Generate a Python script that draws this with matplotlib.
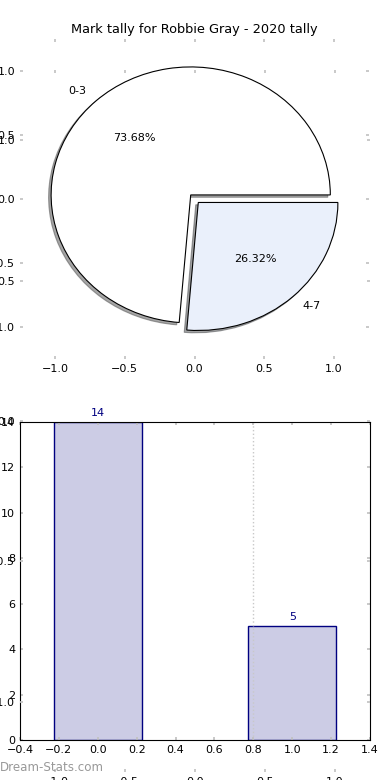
import matplotlib
matplotlib.use("Agg")
import matplotlib.pyplot as plt

# ── Data ──────────────────────────────────────────────────────────────────────
PLAYER = "Robbie Gray"
SEASON = 2020
mark_bins = ["0-3", "4-7"]
mark_counts = [14, 5]
bar_pos = [0, 1]
pie_ticks = [-1.0, -0.5, 0.0, 0.5, 1.0]
bar_xticks = [-0.4, -0.2, 0.0, 0.2, 0.4, 0.6, 0.8, 1.0, 1.2, 1.4]
bar_yticks = [0, 2, 4, 6, 8, 10, 12, 14]
marker_x = 0.8

# ── Style ─────────────────────────────────────────────────────────────────────
TICK_GREY = "#c0c0c0"
plt.rcParams.update({
    "font.size": 8,
    "xtick.direction": "in", "ytick.direction": "in",
    "xtick.top": True, "ytick.right": True,
    "xtick.color": TICK_GREY, "ytick.color": TICK_GREY,
    "xtick.labelcolor": "black", "ytick.labelcolor": "black",
    "xtick.major.size": 2.5, "ytick.major.size": 2.5,
    "xtick.major.width": 1.2, "ytick.major.width": 1.2,
    "xtick.major.pad": 3.5, "ytick.major.pad": 3.5,
})

W, H = 390, 780
fig = plt.figure(figsize=(W / 100, H / 100), dpi=100)


def box(x0, y0, x1, y1):
    """pixel box (top-left origin) -> figure fraction rect"""
    return [x0 / W, 1 - y1 / H, (x1 - x0) / W, (y1 - y0) / H]


# ── Pie ───────────────────────────────────────────────────────────────────────
ax1 = fig.add_axes(box(20, 38.7, 369, 358.7))
ax1.pie(mark_counts, labels=mark_bins, colors=["white", "#eaf0fb"],
        explode=[0.04, 0.04], autopct="%.2f%%",
        shadow={"ox": -0.013, "oy": -0.013},
        wedgeprops={"edgecolor": "black", "linewidth": 0.8})
ax1.set_aspect("auto")
ax1.set_xlim(-1.25, 1.25)
ax1.set_ylim(-1.25, 1.25)
ax1.set_xticks(pie_ticks)
ax1.set_yticks(pie_ticks)
ax1.set_frame_on(False)
ax1.set_title(f"Mark tally for {PLAYER} - {SEASON} tally", fontsize=9.3, pad=4)

# ── Bars ──────────────────────────────────────────────────────────────────────
ax2 = fig.add_axes(box(20, 421.7, 370, 740))
bars = ax2.bar(bar_pos, mark_counts, width=0.45,
               facecolor=(0, 0, 0.5, 0.2), edgecolor="navy", linewidth=1)
for b, c in zip(bars, mark_counts):
    ax2.annotate(str(c), (b.get_x() + b.get_width() / 2, b.get_height()),
                 xytext=(0, 3), textcoords="offset points",
                 ha="center", va="bottom", color="navy", fontsize=8)
ax2.axvline(marker_x, color="#c8c8c8", linestyle=":", linewidth=1)
ax2.set_xlim(-0.4, 1.4)
ax2.set_ylim(0, 14)
ax2.set_xticks(bar_xticks)
ax2.set_yticks(bar_yticks)

# ── Leftover full-size axes (ticks only) ──────────────────────────────────────
bg = fig.add_axes(box(20, 70, 370, 772))
bg.set_xlim(-1.25, 1.25)
bg.set_ylim(-1.25, 1.25)
bg.set_xticks(pie_ticks)
bg.set_yticks(pie_ticks)
bg.set_frame_on(False)
bg.patch.set_visible(False)

fig.text(0, 1 - 767.5 / H, "Dream-Stats.com", color="#999999",
         fontsize=8.6, ha="left", va="center")

fig.savefig("out.png", dpi=100)
